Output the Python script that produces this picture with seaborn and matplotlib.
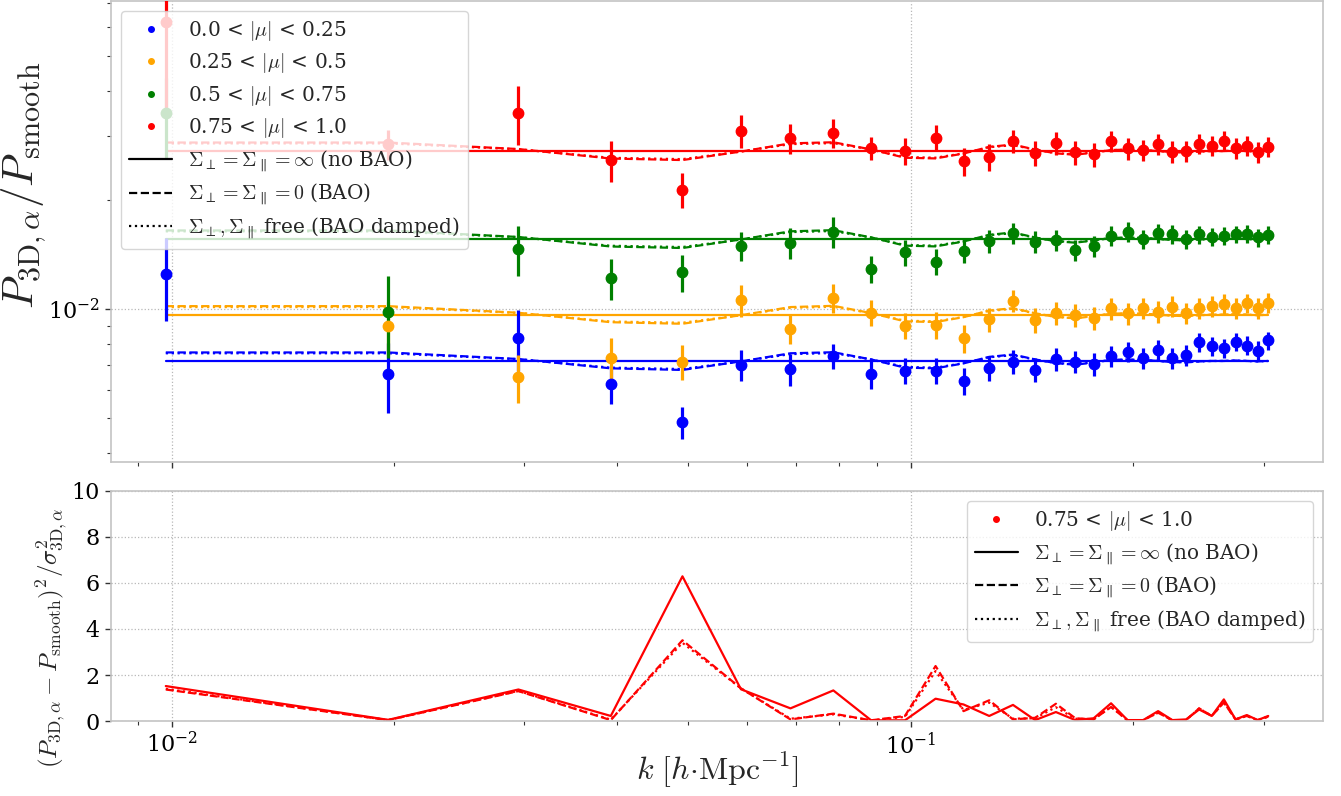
import numpy as np
import pandas as pd
import matplotlib
matplotlib.use("Agg")
import matplotlib.pyplot as plt
from matplotlib.lines import Line2D
import seaborn as sns

# ---------------------------------------------------------------- data
# wavenumbers k = n * 2*pi/640  [h/Mpc], n = 1..31
k = [0.00982, 0.01963, 0.02945, 0.03927, 0.04909, 0.05890, 0.06872, 0.07854,
     0.08836, 0.09817, 0.10799, 0.11781, 0.12763, 0.13744, 0.14726, 0.15708,
     0.16690, 0.17671, 0.18653, 0.19635, 0.20617, 0.21598, 0.22580, 0.23562,
     0.24544, 0.25525, 0.26507, 0.27489, 0.28471, 0.29452, 0.30434]

mu_labels = [r"0.0 < $|\mu|$ < 0.25", r"0.25 < $|\mu|$ < 0.5",
             r"0.5 < $|\mu|$ < 0.75", r"0.75 < $|\mu|$ < 1.0"]
mu_colors = ["blue", "orange", "green", "red"]

# measured P_3D / P_smooth per mu bin
p_mu0 = [0.01251, 0.00662, 0.00835, 0.00622, 0.00488, 0.00702, 0.00683, 0.00743,
         0.00663, 0.00677, 0.00677, 0.00634, 0.00690, 0.00717, 0.00680, 0.00728,
         0.00717, 0.00705, 0.00743, 0.00764, 0.00732, 0.00772, 0.00732, 0.00748,
         0.00811, 0.00792, 0.00780, 0.00814, 0.00794, 0.00769, 0.00820]
p_mu1 = [np.nan, 0.00899, 0.00650, 0.00732, 0.00716, 0.01059, 0.00884, 0.01076,
         0.00979, 0.00901, 0.00905, 0.00832, 0.00938, 0.01056, 0.00934, 0.00975,
         0.00964, 0.00944, 0.01006, 0.00975, 0.01006, 0.00985, 0.01017, 0.00975,
         0.01006, 0.01021, 0.01034, 0.01006, 0.01039, 0.01006, 0.01043]
p_mu2 = [0.03480, 0.00985, 0.01466, 0.01218, 0.01265, 0.01495, 0.01526, 0.01637,
         0.01289, 0.01436, 0.01353, 0.01450, 0.01543, 0.01620, 0.01537, 0.01553,
         0.01457, 0.01497, 0.01593, 0.01637, 0.01560, 0.01620, 0.01610, 0.01563,
         0.01610, 0.01586, 0.01593, 0.01610, 0.01613, 0.01580, 0.01603]
p_mu3 = [0.06210, 0.02858, 0.03486, 0.02581, 0.02138, 0.03110, 0.02963, 0.03060,
         0.02780, 0.02738, 0.02975, 0.02565, 0.02636, 0.02912, 0.02704, 0.02870,
         0.02711, 0.02677, 0.02908, 0.02780, 0.02750, 0.02858, 0.02722, 0.02733,
         0.02863, 0.02827, 0.02918, 0.02791, 0.02827, 0.02711, 0.02809]

# 1-sigma uncertainties
e_mu0 = [0.00320, 0.00146, 0.00160, 0.00074, 0.00050, 0.00070, 0.00070, 0.00060,
         0.00060, 0.00055, 0.00055, 0.00055, 0.00055, 0.00055, 0.00052, 0.00052,
         0.00052, 0.00052, 0.00050, 0.00050, 0.00050, 0.00050, 0.00050, 0.00050,
         0.00050, 0.00048, 0.00048, 0.00048, 0.00048, 0.00048, 0.00048]
e_mu1 = [np.nan, 0.00150, 0.00100, 0.00100, 0.00080, 0.00110, 0.00080, 0.00100,
         0.00080, 0.00075, 0.00075, 0.00075, 0.00072, 0.00072, 0.00072, 0.00070,
         0.00070, 0.00070, 0.00070, 0.00068, 0.00068, 0.00068, 0.00068, 0.00066,
         0.00066, 0.00066, 0.00066, 0.00065, 0.00065, 0.00065, 0.00065]
e_mu2 = [0.00860, 0.00250, 0.00230, 0.00160, 0.00150, 0.00140, 0.00150, 0.00160,
         0.00110, 0.00120, 0.00110, 0.00110, 0.00110, 0.00110, 0.00105, 0.00105,
         0.00100, 0.00100, 0.00100, 0.00100, 0.00095, 0.00095, 0.00095, 0.00092,
         0.00092, 0.00090, 0.00090, 0.00090, 0.00090, 0.00090, 0.00090]
e_mu3 = [0.02660, 0.00270, 0.00650, 0.00340, 0.00238, 0.00330, 0.00280, 0.00280,
         0.00200, 0.00230, 0.00242, 0.00230, 0.00225, 0.00220, 0.00215, 0.00210,
         0.00205, 0.00200, 0.00200, 0.00195, 0.00190, 0.00190, 0.00190, 0.00185,
         0.00185, 0.00185, 0.00185, 0.00185, 0.00185, 0.00185, 0.00185]

# model: no BAO (Sigma = infinity), flat in each mu bin
smooth_mu0 = [0.00720] * 31
smooth_mu1 = [0.00966] * 31
smooth_mu2 = [0.01563] * 31
smooth_mu3 = [0.02733] * 31

# model: undamped BAO (Sigma = 0)
bao_mu0 = [0.00760, 0.00760, 0.00729, 0.00687, 0.00680, 0.00718, 0.00756, 0.00761,
           0.00727, 0.00690, 0.00687, 0.00709, 0.00739, 0.00750, 0.00727, 0.00710,
           0.00703, 0.00713, 0.00725, 0.00727, 0.00725, 0.00720, 0.00715, 0.00713,
           0.00718, 0.00720, 0.00720, 0.00722, 0.00720, 0.00718, 0.00720]
bao_mu1 = [0.01020, 0.01020, 0.00978, 0.00921, 0.00912, 0.00963, 0.01014, 0.01022,
           0.00976, 0.00926, 0.00922, 0.00951, 0.00992, 0.01007, 0.00975, 0.00952,
           0.00944, 0.00957, 0.00972, 0.00975, 0.00972, 0.00966, 0.00960, 0.00957,
           0.00963, 0.00966, 0.00966, 0.00969, 0.00966, 0.00963, 0.00966]
bao_mu2 = [0.01650, 0.01650, 0.01583, 0.01490, 0.01476, 0.01558, 0.01641, 0.01653,
           0.01579, 0.01498, 0.01491, 0.01538, 0.01605, 0.01629, 0.01578, 0.01540,
           0.01527, 0.01548, 0.01573, 0.01578, 0.01573, 0.01563, 0.01553, 0.01548,
           0.01558, 0.01563, 0.01563, 0.01568, 0.01563, 0.01558, 0.01563]
bao_mu3 = [0.02885, 0.02885, 0.02768, 0.02606, 0.02581, 0.02724, 0.02870, 0.02890,
           0.02761, 0.02619, 0.02608, 0.02690, 0.02807, 0.02848, 0.02759, 0.02693,
           0.02670, 0.02707, 0.02750, 0.02759, 0.02750, 0.02733, 0.02716, 0.02707,
           0.02724, 0.02733, 0.02733, 0.02742, 0.02733, 0.02724, 0.02733]

# model: damped BAO (Sigma free)
damp_mu0 = [0.00756, 0.00756, 0.00728, 0.00690, 0.00684, 0.00718, 0.00752, 0.00757,
            0.00727, 0.00693, 0.00690, 0.00710, 0.00737, 0.00747, 0.00726, 0.00711,
            0.00705, 0.00714, 0.00724, 0.00726, 0.00724, 0.00720, 0.00716, 0.00714,
            0.00718, 0.00720, 0.00720, 0.00722, 0.00720, 0.00718, 0.00720]
damp_mu1 = [0.01014, 0.01014, 0.00977, 0.00925, 0.00918, 0.00963, 0.01009, 0.01016,
            0.00975, 0.00930, 0.00926, 0.00952, 0.00989, 0.01003, 0.00974, 0.00953,
            0.00946, 0.00958, 0.00972, 0.00974, 0.00972, 0.00966, 0.00960, 0.00958,
            0.00963, 0.00966, 0.00966, 0.00969, 0.00966, 0.00963, 0.00966]
damp_mu2 = [0.01641, 0.01641, 0.01581, 0.01497, 0.01485, 0.01558, 0.01633, 0.01644,
            0.01577, 0.01504, 0.01498, 0.01541, 0.01601, 0.01622, 0.01576, 0.01543,
            0.01530, 0.01550, 0.01572, 0.01576, 0.01572, 0.01563, 0.01554, 0.01550,
            0.01558, 0.01563, 0.01563, 0.01568, 0.01563, 0.01558, 0.01563]
damp_mu3 = [0.02869, 0.02869, 0.02764, 0.02618, 0.02596, 0.02725, 0.02856, 0.02874,
            0.02758, 0.02630, 0.02620, 0.02694, 0.02800, 0.02837, 0.02757, 0.02697,
            0.02676, 0.02710, 0.02749, 0.02757, 0.02749, 0.02733, 0.02717, 0.02710,
            0.02725, 0.02733, 0.02733, 0.02741, 0.02733, 0.02725, 0.02733]

# chi^2 contributions for the highest mu bin
chi2_nobao = [1.52, 0.05, 1.37, 0.22, 6.29, 1.38, 0.55, 1.33, 0.03, 0.03, 0.97,
              0.72, 0.22, 0.70, 0.04, 0.39, 0.04, 0.12, 0.77, 0.04, 0.04, 0.43,
              0.04, 0.07, 0.50, 0.22, 0.94, 0.07, 0.26, 0.04, 0.22]
chi2_bao = [1.37, 0.04, 1.30, 0.04, 3.51, 1.42, 0.07, 0.32, 0.03, 0.22, 2.39,
            0.43, 0.90, 0.07, 0.14, 0.75, 0.12, 0.07, 0.61, 0.03, 0.04, 0.36,
            0.03, 0.04, 0.55, 0.22, 0.80, 0.07, 0.22, 0.04, 0.19]
chi2_damped = [1.40, 0.04, 1.31, 0.06, 3.40, 1.42, 0.10, 0.29, 0.03, 0.18, 2.17,
               0.48, 0.80, 0.10, 0.12, 0.60, 0.10, 0.08, 0.62, 0.03, 0.04, 0.37,
               0.03, 0.04, 0.55, 0.22, 0.82, 0.07, 0.22, 0.04, 0.19]

model_labels = [r"$\Sigma_\perp=\Sigma_\parallel=\infty$ (no BAO)",
                r"$\Sigma_\perp=\Sigma_\parallel=0$ (BAO)",
                r"$\Sigma_\perp,\Sigma_\parallel$ free (BAO damped)"]

# ---------------------------------------------------------------- tables
data = [p_mu0, p_mu1, p_mu2, p_mu3]
errs = [e_mu0, e_mu1, e_mu2, e_mu3]
models = {"nobao": [smooth_mu0, smooth_mu1, smooth_mu2, smooth_mu3],
          "bao": [bao_mu0, bao_mu1, bao_mu2, bao_mu3],
          "damped": [damp_mu0, damp_mu1, damp_mu2, damp_mu3]}
styles = {"nobao": "-", "bao": "--", "damped": ":"}

rows = []
for name, series in models.items():
    for lab, vals in zip(mu_labels, series):
        for kk, v in zip(k, vals):
            rows.append({"k": kk, "P": v, "mu": lab, "model": name})
model_df = pd.DataFrame(rows)

chi_df = pd.concat([
    pd.DataFrame({"k": k, "chi2": chi2_nobao, "model": "nobao"}),
    pd.DataFrame({"k": k, "chi2": chi2_bao, "model": "bao"}),
    pd.DataFrame({"k": k, "chi2": chi2_damped, "model": "damped"}),
])

# ---------------------------------------------------------------- style
sns.set_theme(style="whitegrid")
plt.rcParams.update({
    "font.family": ["DejaVu Serif"],
    "mathtext.fontset": "cm",
    "axes.edgecolor": "#c4c4c4",
    "axes.linewidth": 1.2,
    "grid.color": "#b8b8b8",
    "grid.linestyle": ":",
    "grid.linewidth": 0.9,
    "xtick.bottom": True,
    "ytick.left": True,
    "xtick.direction": "out",
    "ytick.direction": "out",
    "xtick.color": "#333333",
    "ytick.color": "#333333",
    "xtick.labelcolor": "black",
    "ytick.labelcolor": "black",
    "xtick.major.size": 4.5,
    "ytick.major.size": 4.5,
    "xtick.minor.size": 3,
    "ytick.minor.size": 3,
    "xtick.major.width": 1.0,
    "ytick.major.width": 1.0,
    "xtick.minor.width": 0.8,
    "ytick.minor.width": 0.8,
    "legend.framealpha": 0.8,
    "legend.edgecolor": "#cccccc",
})

fig = plt.figure(figsize=(13.41, 7.96), dpi=100)
ax1 = fig.add_axes([0.0828, 0.4202, 0.9038, 0.5785])
ax2 = fig.add_axes([0.0828, 0.0942, 0.9038, 0.2890])

# ---------------------------------------------------------------- top panel
for lab, col, p, e in zip(mu_labels, mu_colors, data, errs):
    ax1.errorbar(k, p, yerr=e, fmt="o", color=col, ms=7.5, elinewidth=2.3,
                 capsize=0, zorder=3)

for name, ls in styles.items():
    sub = model_df[model_df["model"] == name]
    sns.lineplot(data=sub, x="k", y="P", hue="mu", hue_order=mu_labels,
                 palette=mu_colors, linestyle=ls, linewidth=1.6, legend=False,
                 ax=ax1, zorder=2)

ax1.set_xscale("log")
ax1.set_yscale("log")
ax1.set_xlim(0.00828, 0.361)
ax1.set_ylim(0.0038, 0.0709)
ax1.set_xlabel("")
ax1.set_ylabel(r"$P_{\rm 3D,\alpha}/P_{\rm smooth}$", fontsize=31)
ax1.yaxis.set_label_coords(-0.052, 0.60)
ax1.tick_params(axis="x", which="both", labelbottom=False)
ax1.tick_params(axis="y", which="major", labelsize=16)
ax1.grid(True, which="major")
ax1.grid(False, which="minor")

handles = [Line2D([0], [0], marker="o", ls="", color=c, ms=4) for c in mu_colors]
handles += [Line2D([0], [0], color="black", ls=ls, lw=1.6) for ls in styles.values()]
ax1.legend(handles, mu_labels + model_labels, loc="upper left", fontsize=14.4,
           handlelength=2.15, labelspacing=0.42, framealpha=0.8)

# ---------------------------------------------------------------- bottom panel
sns.lineplot(data=chi_df, x="k", y="chi2", style="model",
             style_order=["nobao", "bao", "damped"],
             dashes={"nobao": "", "bao": (3.5, 1.5), "damped": (1, 1.6)},
             color="red", linewidth=1.6, legend=False, ax=ax2)

ax2.set_xscale("log")
ax2.set_xlim(0.00828, 0.361)
ax2.set_ylim(0, 10)
ax2.set_yticks([0, 2, 4, 6, 8, 10])
ax2.set_xlabel(r"$k\ [h{\cdot}\mathrm{Mpc}^{-1}]$", fontsize=23)
ax2.xaxis.set_label_coords(0.5, -0.13)
ax2.set_ylabel(r"$(P_{\rm 3D,\alpha}-P_{\rm smooth})^2/\sigma^2_{\rm 3D,\alpha}$",
               fontsize=18)
ax2.yaxis.set_label_coords(-0.034, 0.36)
ax2.tick_params(axis="both", which="major", labelsize=16)
ax2.grid(True, which="major")
ax2.grid(False, which="minor")

handles2 = [Line2D([0], [0], marker="o", ls="", color="red", ms=4)]
handles2 += [Line2D([0], [0], color="black", ls=ls, lw=1.6) for ls in styles.values()]
ax2.legend(handles2, [mu_labels[3]] + model_labels, loc="upper right",
           fontsize=14.4, handlelength=2.15, labelspacing=0.42, framealpha=0.8)

fig.savefig("out.png", dpi=100)
